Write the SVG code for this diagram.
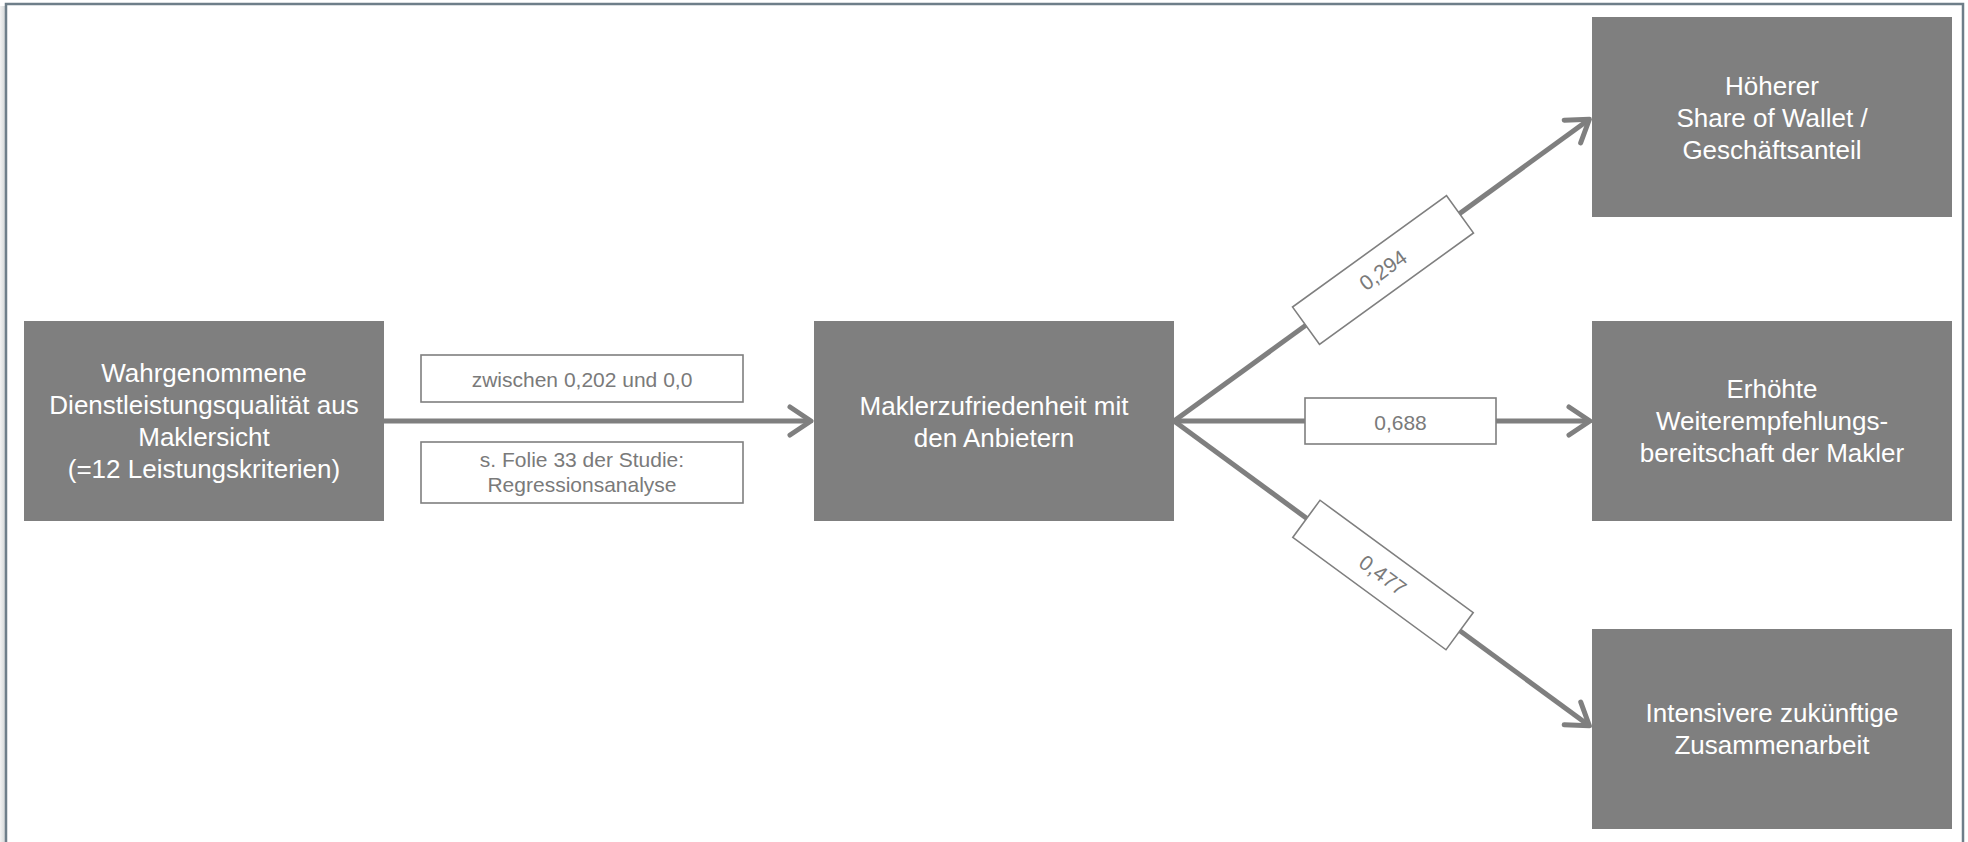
<svg xmlns="http://www.w3.org/2000/svg" width="1968" height="842" viewBox="0 0 1968 842">
<defs>
<linearGradient id="shadow" x1="0" y1="0" x2="1" y2="0">
<stop offset="0" stop-color="#f2f2f2"/>
<stop offset="1" stop-color="#cfd3d4"/>
</linearGradient>
<marker id="arr" markerUnits="userSpaceOnUse" markerWidth="60" markerHeight="60" refX="0" refY="0" orient="auto" overflow="visible">
<path d="M-18,-14 L3,0 L-18,14" fill="none" stroke="#7f7f7f" stroke-width="5" stroke-linecap="round" stroke-linejoin="round"/>
</marker>
<style>
.node{fill:#7f7f7f;}
.nt{font-family:"Liberation Sans",Arial,sans-serif;font-size:26px;fill:#ffffff;text-anchor:middle;}
.lb{fill:#ffffff;stroke:#7f7f7f;stroke-width:1.6;}
.lt{font-family:"Liberation Sans",Arial,sans-serif;font-size:21px;fill:#7a7a7a;text-anchor:middle;}
.con{stroke:#7f7f7f;stroke-width:5;fill:none;}
</style>
</defs>
<rect x="0" y="0" width="1968" height="842" fill="#ffffff"/>
<rect x="0" y="6" width="6" height="836" fill="url(#shadow)"/>
<rect x="6" y="4" width="1957" height="845" fill="none" stroke="#6e7e89" stroke-width="2.5"/>

<g id="connectors">
<line class="con" x1="384" y1="421" x2="808" y2="421" marker-end="url(#arr)"/>
<line class="con" x1="1174" y1="421" x2="1587" y2="421" marker-end="url(#arr)"/>
<line class="con" x1="1174" y1="421" x2="1587" y2="121" marker-end="url(#arr)"/>
<line class="con" x1="1174" y1="421" x2="1587" y2="724" marker-end="url(#arr)"/>
<g id="label-1">
<rect class="lb" x="421" y="355" width="322" height="47"/>
<text class="lt" x="582" y="387">zwischen 0,202 und 0,0</text>
</g>
<g id="label-2">
<rect class="lb" x="421" y="442" width="322" height="61"/>
<text class="lt" x="582" y="467">s. Folie 33 der Studie:</text>
<text class="lt" x="582" y="492">Regressionsanalyse</text>
</g>
<g id="label-294" transform="translate(1383,270) rotate(-35.87)">
<rect class="lb" x="-95" y="-23" width="190" height="46"/>
<text class="lt" x="0" y="7.5">0,294</text>
</g>
<g id="label-688">
<rect class="lb" x="1305" y="398" width="191" height="46"/>
<text class="lt" x="1400.5" y="430">0,688</text>
</g>
<g id="label-477" transform="translate(1383,575) rotate(36.27)">
<rect class="lb" x="-95" y="-23" width="190" height="46"/>
<text class="lt" x="0" y="7.5">0,477</text>
</g>
</g>

<g id="node-dienstleistung">
<rect class="node" x="24" y="321" width="360" height="200"/>
<text class="nt" x="204" y="382">Wahrgenommene</text>
<text class="nt" x="204" y="414">Dienstleistungsqualität aus</text>
<text class="nt" x="204" y="446">Maklersicht</text>
<text class="nt" x="204" y="478">(=12 Leistungskriterien)</text>
</g>
<g id="node-zufriedenheit">
<rect class="node" x="814" y="321" width="360" height="200"/>
<text class="nt" x="994" y="415">Maklerzufriedenheit mit</text>
<text class="nt" x="994" y="447">den Anbietern</text>
</g>
<g id="node-share">
<rect class="node" x="1592" y="17" width="360" height="200"/>
<text class="nt" x="1772" y="95">Höherer</text>
<text class="nt" x="1772" y="127">Share of Wallet /</text>
<text class="nt" x="1772" y="159">Geschäftsanteil</text>
</g>
<g id="node-weiterempfehlung">
<rect class="node" x="1592" y="321" width="360" height="200"/>
<text class="nt" x="1772" y="398">Erhöhte</text>
<text class="nt" x="1772" y="430">Weiterempfehlungs-</text>
<text class="nt" x="1772" y="462">bereitschaft der Makler</text>
</g>
<g id="node-zusammenarbeit">
<rect class="node" x="1592" y="629" width="360" height="200"/>
<text class="nt" x="1772" y="722">Intensivere zukünftige</text>
<text class="nt" x="1772" y="754">Zusammenarbeit</text>
</g>
</svg>
